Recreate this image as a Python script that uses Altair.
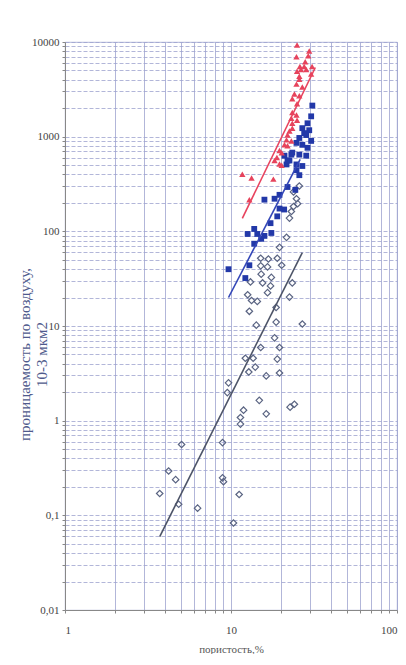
import altair as alt
import pandas as pd

# ---- data (porosity %, permeability 10-3 um2) ----
red_x = [11.7, 13.3, 18.0, 12.9, 18.3, 19.6, 20.2, 18.9, 19.6, 21.0, 21.6, 22.5, 23.4, 25.0,
         23.1, 24.8, 23.4, 25.0, 23.4, 25.8, 24.1, 26.9, 24.8, 25.8, 25.0, 26.4, 28.4, 26.0,
         27.6, 30.8, 24.8, 29.2, 29.6, 25.0, 23.4, 21.9, 23.1, 20.2, 21.9, 25.8, 30.4, 28.0]
red_y = [401, 365, 356, 216, 560, 513, 500, 601, 713, 820, 925, 1150, 1385, 1490,
         1560, 1690, 1800, 2230, 2510, 2700, 2830, 3350, 3590, 4350, 4900, 5130, 5130, 5500,
         5500, 5500, 6980, 7160, 8050, 9310, 1230, 1040, 900, 678, 800, 4050, 4600, 6200]

blue_x = [30.9, 30.4, 28.9, 26.9, 29.6, 28.4, 25.8, 30.4, 26.9, 24.8, 28.9, 23.4, 25.8, 28.4,
          21.0, 22.5, 24.8, 21.6, 26.9, 24.8, 25.8, 21.9, 24.4, 19.6, 15.9, 18.3, 19.6, 19.0,
          17.3, 13.8, 12.6, 14.4, 17.5, 15.9, 15.2, 13.8, 12.9, 9.66, 12.2, 27.6, 23.1, 21.9, 20.9]
blue_y = [2130, 1640, 1385, 1230, 1170, 1040, 969, 902, 820, 860, 763, 678, 646, 630,
          630, 560, 509, 509, 490, 442, 392, 294, 274, 243, 216, 221, 174, 144,
          122, 106, 93.8, 93.8, 96.1, 89.5, 83.4, 74, 43.8, 39.8, 32.1, 1090, 646, 560, 170]

dia_x = [25.8, 23.8, 24.8, 23.8, 25.2, 23.1, 22.5, 21.6, 19.6, 15.1, 16.8, 19.0, 15.1, 16.6,
         20.2, 15.2, 17.5, 15.5, 13.1, 17.3, 23.4, 12.6, 13.3, 14.4, 16.6, 22.5, 12.9, 18.7,
         14.2, 18.7, 26.9, 18.3, 15.1, 19.6, 12.2, 13.6, 19.0, 14.0, 12.8, 16.3, 19.6, 9.66,
         9.5, 14.8, 22.7, 24.1, 11.9, 11.4, 16.3, 11.4,
         5.04, 8.89, 4.21, 4.64, 3.72, 4.84, 6.29, 8.89, 9.01, 11.2, 10.35]
dia_y = [301, 261, 221, 183, 196, 162, 138, 86.4, 67.8, 52, 51, 52, 43.2, 42.1,
         43.8, 35.3, 32.6, 28.5, 29.2, 26.5, 28.5, 21.4, 18.6, 18.2, 22.5, 20.2, 14.3, 15.7,
         10.2, 11.0, 10.5, 7.5, 5.93, 5.93, 4.56, 4.56, 4.47, 3.68, 3.27, 2.97, 3.19, 2.51,
         1.98, 1.64, 1.39, 1.49, 1.29, 1.08, 1.18, 0.92,
         0.56, 0.587, 0.294, 0.238, 0.17, 0.131, 0.119, 0.249, 0.227, 0.166, 0.083]

# trend lines (end points)
red_line_x = [11.7, 32.2]
red_line_y = [137, 5380]
blue_line_x = [9.66, 26.1]
blue_line_y = [20, 574]
dia_line_x = [3.72, 26.9]
dia_line_y = [0.0597, 59.7]

# axis grid positions and labels
x_ticks = [1, 2, 3, 4, 5, 6, 7, 8, 9, 10, 20, 30, 40, 50, 60, 70, 80, 90, 100]
y_decades = [0.01, 0.1, 1, 10, 100, 1000]
y_ticks = [round(d * k, 4) for d in y_decades for k in range(1, 10)] + [10000]

x_title = "пористость,%"
y_title = ["проницаемость по воздуху,", "10-3 мкм2"]

FONT = "Liberation Serif"
GRID = "#9ea3cf"
label_expr = ("abs(log(datum.value)/LN10 - round(log(datum.value)/LN10)) < 0.001 ? "
              "replace(format(datum.value, '~g'), '.', ',') : ''")

xscale = alt.Scale(type="log", domain=[1, 100], nice=False)
yscale = alt.Scale(type="log", domain=[0.01, 10000], nice=False)

x_axis = alt.Axis(values=x_ticks, labelExpr=label_expr, title=x_title,
                  grid=True, gridColor=GRID, gridWidth=0.8,
                  domainColor="#888", tickColor="#888", tickSize=3,
                  labelFont=FONT, labelFontSize=11, labelColor="#444", labelPadding=11,
                  titleFont=FONT, titleFontSize=11, titleFontWeight="normal",
                  titleColor="#555", titlePadding=8)
y_axis = alt.Axis(values=y_ticks, labelExpr=label_expr, title=y_title,
                  grid=True, gridColor=GRID, gridWidth=0.8, gridDash=[4, 2],
                  domainColor="#888", tickColor="#888", tickSize=3,
                  labelFont=FONT, labelFontSize=11, labelColor="#444", labelPadding=3,
                  titleFont=FONT, titleFontSize=15, titleFontWeight="normal",
                  titleColor="#4f5a8c", titleAngle=270, titleAlign="center",
                  titleBaseline="alphabetic", titleLineHeight=17,
                  titleX=-36, titleY=312)

X = alt.X("x:Q", scale=xscale, axis=x_axis)
Y = alt.Y("y:Q", scale=yscale, axis=y_axis)


def df(xs, ys):
    return pd.DataFrame({"x": xs, "y": ys})


red_pts = alt.Chart(df(red_x, red_y)).mark_point(
    shape="triangle-up", filled=True, size=40, color="#e6435c", opacity=1
).encode(x=X, y=Y)
blue_pts = alt.Chart(df(blue_x, blue_y)).mark_point(
    shape="square", filled=True, size=34, color="#2238a8", opacity=1
).encode(x=X, y=Y)
dia_pts = alt.Chart(df(dia_x, dia_y)).mark_point(
    shape="diamond", filled=False, size=42, color="#5a6482", strokeWidth=1.2, opacity=1
).encode(x=X, y=Y)

red_ln = alt.Chart(df(red_line_x, red_line_y)).mark_line(
    color="#e8435e", strokeWidth=1.6).encode(x=X, y=Y)
blue_ln = alt.Chart(df(blue_line_x, blue_line_y)).mark_line(
    color="#3447b8", strokeWidth=1.6).encode(x=X, y=Y)
dia_ln = alt.Chart(df(dia_line_x, dia_line_y)).mark_line(
    color="#4d5468", strokeWidth=1.6).encode(x=X, y=Y)

chart = alt.layer(dia_pts, dia_ln, blue_pts, blue_ln, red_pts, red_ln).properties(
    width=332, height=568,
    autosize=alt.AutoSizeParams(type="none"),
    padding={"left": 57, "top": 34, "right": 1, "bottom": 44},
    background="white",
).configure_view(stroke=GRID, strokeWidth=0.8)

chart.save("out.html", embed_options={"renderer": "svg", "actions": False})
